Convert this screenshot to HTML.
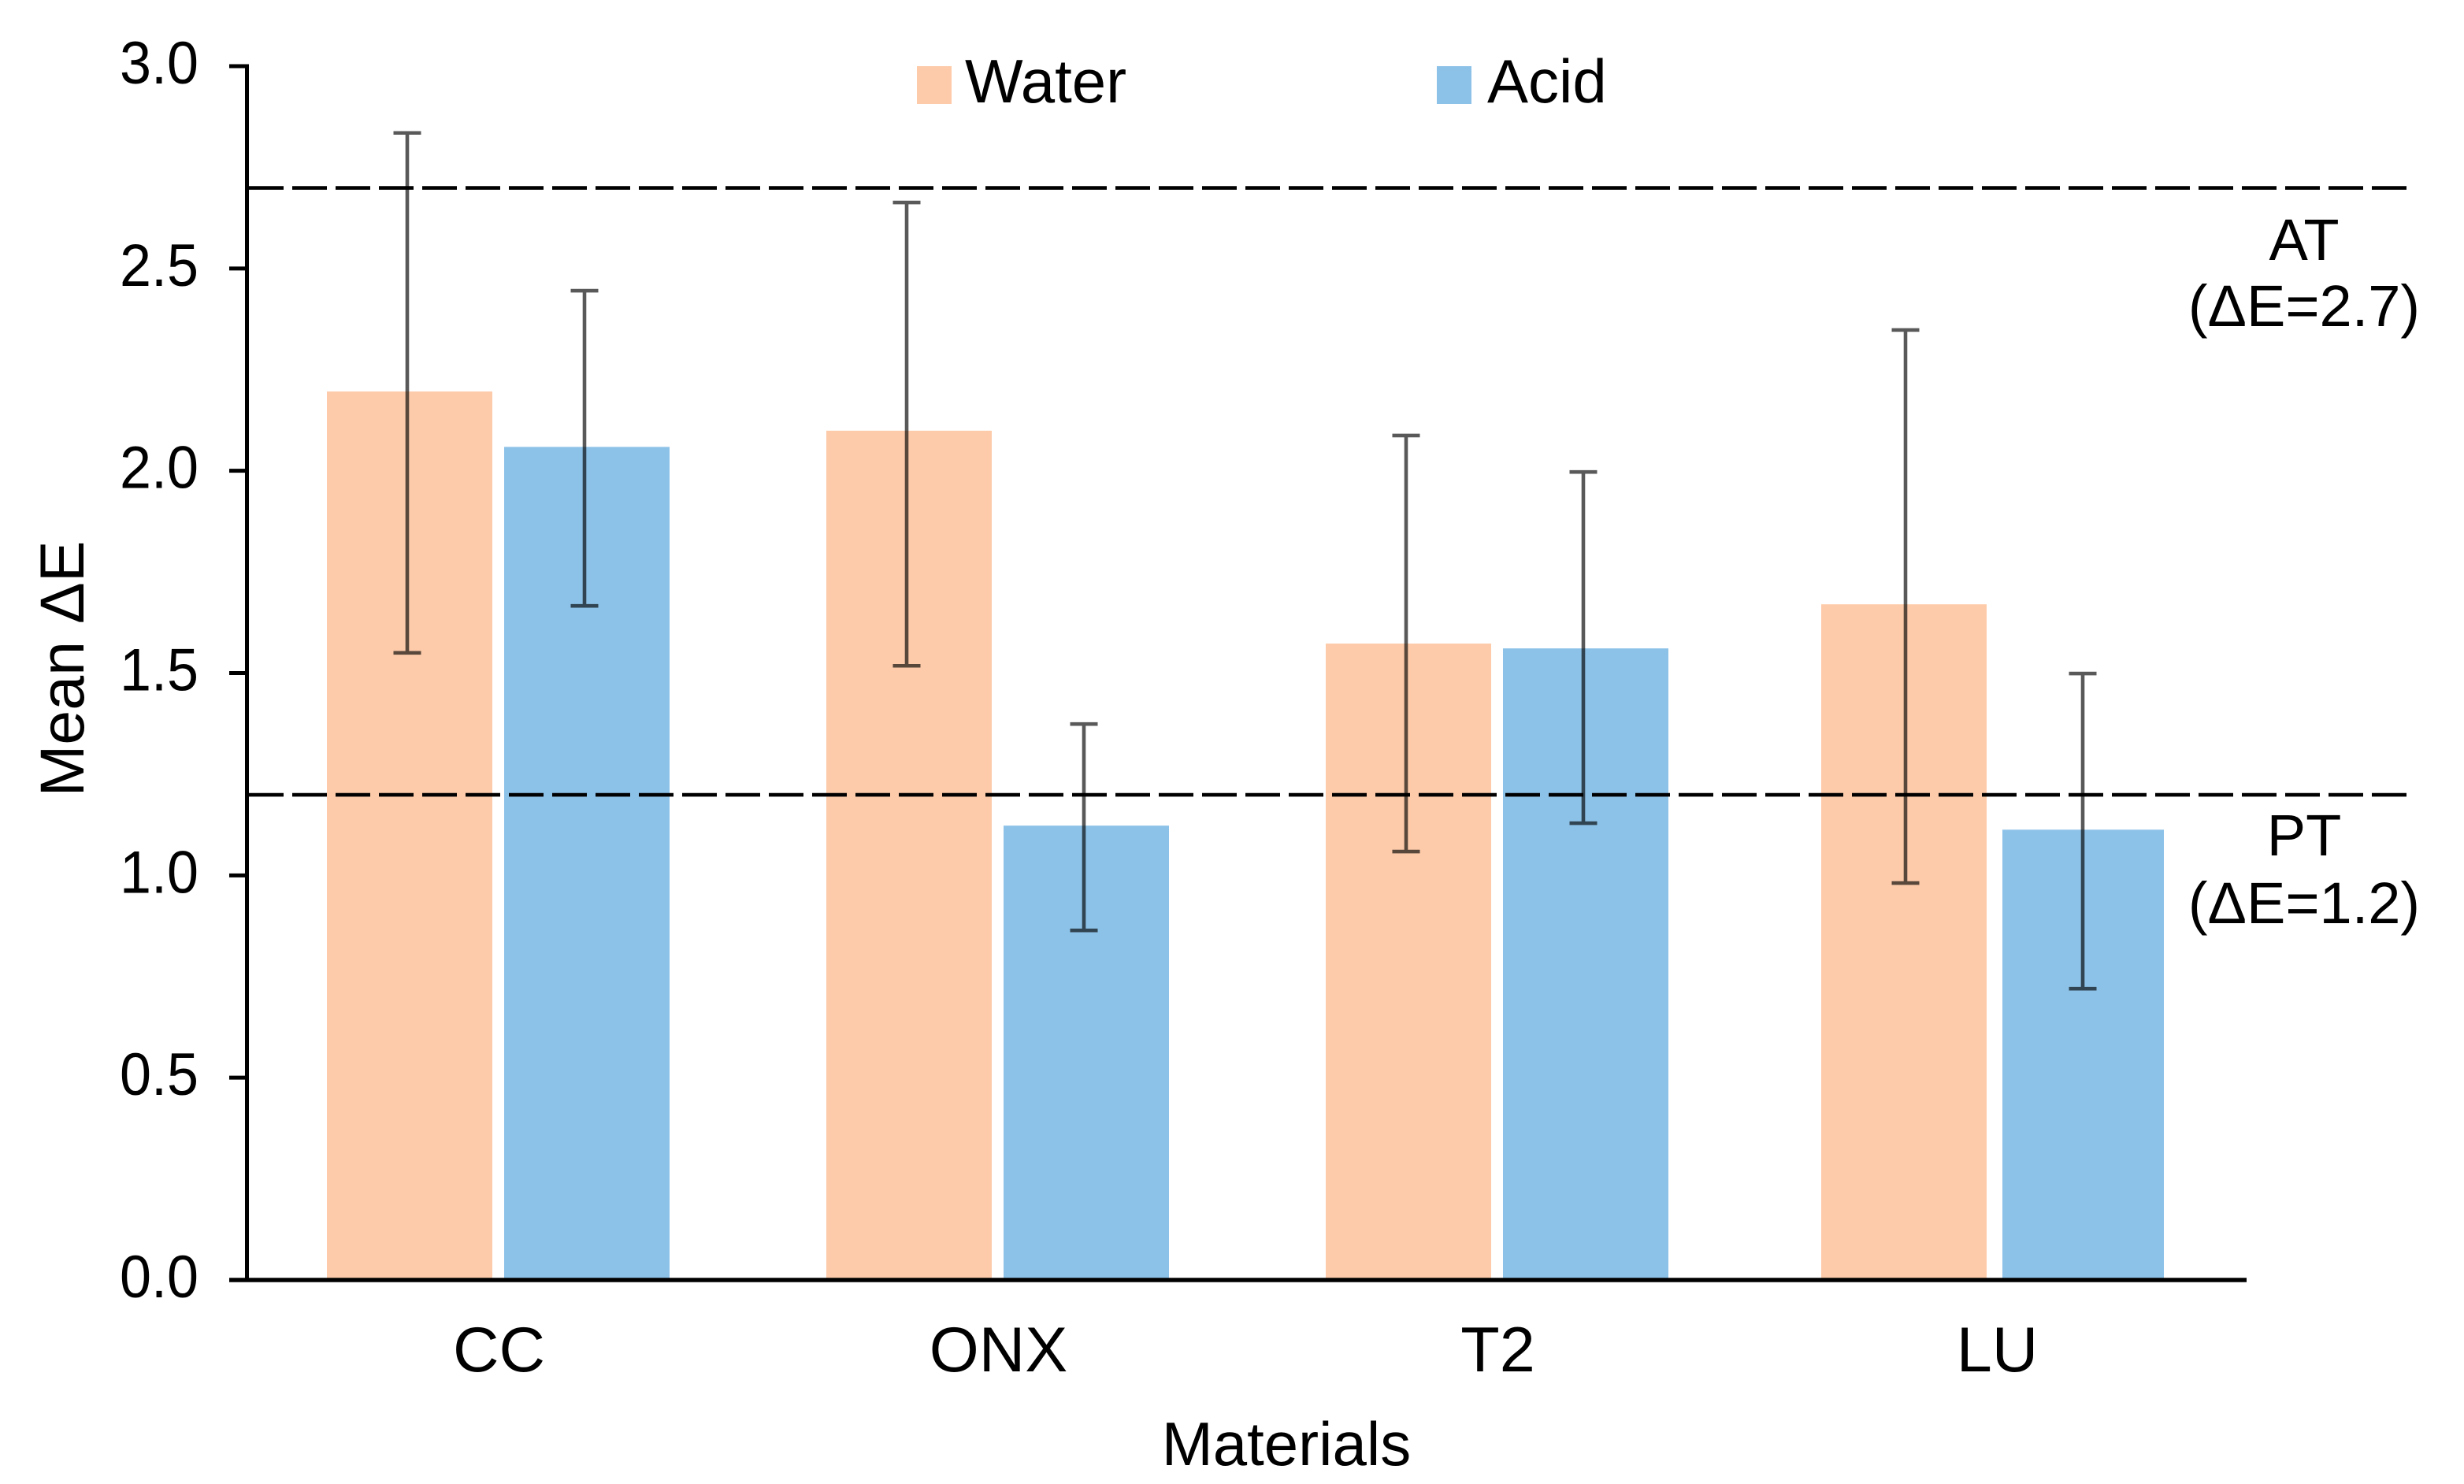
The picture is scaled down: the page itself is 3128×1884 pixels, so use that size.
<!DOCTYPE html>
<html lang="en">
<head>
<meta charset="utf-8">
<title>Mean ΔE by material</title>
<style>
html,body{margin:0;padding:0;background:#fff;}
#chart{display:block;width:3128px;height:1884px;font-family:"Liberation Sans",Arial,sans-serif;fill:#000;}
</style>
</head>
<body>
<svg id="chart" xmlns="http://www.w3.org/2000/svg" width="3128" height="1884" viewBox="0 0 3128 1884">
  <rect x="0" y="0" width="3128" height="1884" fill="#ffffff"/>
  <g id="bars"></g>
  <g id="errors"></g>
  <g id="refs"></g>
  <g id="axes"></g>
  <g>
    <rect x="1164" y="84" width="44" height="48" fill="#FDCBAA"/>
    <text x="1225" y="130" font-size="78">Water</text>
    <rect x="1824" y="84" width="44" height="48" fill="#8DC2E8"/>
    <text x="1888" y="130" font-size="78">Acid</text>
  </g>
  <text x="2925" y="330" font-size="74" text-anchor="middle">AT</text>
  <text x="2925" y="414" font-size="74" text-anchor="middle">(ΔE=2.7)</text>
  <text x="2925" y="1086" font-size="74" text-anchor="middle">PT</text>
  <text x="2925" y="1172" font-size="74" text-anchor="middle">(ΔE=1.2)</text>
  <text x="1633" y="1860" font-size="78" text-anchor="middle">Materials</text>
  <text transform="translate(106 849) rotate(-90)" font-size="79" text-anchor="middle">Mean ΔE</text>
</svg>
<script>
const categories = ["CC", "ONX", "T2", "LU"];
const waterMeans = [2.196, 2.099, 1.573, 1.670];
const acidMeans = [2.059, 1.123, 1.561, 1.113];
const waterHigh = [2.835, 2.663, 2.087, 2.348];
const waterLow = [1.550, 1.518, 1.059, 0.981];
const acidHigh = [2.445, 1.374, 1.997, 1.499];
const acidLow = [1.666, 0.864, 1.129, 0.720];
const yTicks = ["0.0", "0.5", "1.0", "1.5", "2.0", "2.5", "3.0"];
const thresholds = [2.7, 1.2];

const NS = "http://www.w3.org/2000/svg";
function make(tag, attrs, parent) {
  const el = document.createElementNS(NS, tag);
  for (const k in attrs) el.setAttribute(k, attrs[k]);
  parent.appendChild(el);
  return el;
}
const plotLeft = 313.5, plotRight = 2852, plotTickLeft = 291, yZero = 1625, yTop = 84, yMax = 3;
function yScale(v) { return yZero - (v / yMax) * (yZero - yTop); }
function xCenter(i) { return 632.5 + i * 634; }

const barWidth = 210, barOffset = 112.5;
const barsG = document.getElementById("bars");
const errorsG = document.getElementById("errors");
const refsG = document.getElementById("refs");
const axesG = document.getElementById("axes");

function drawSeries(name, means, highs, lows, color, offset, lastTrim, lastShift) {
  means.forEach(function (v, i) {
    const cx = xCenter(i) + offset;
    const isLast = i === means.length - 1;
    const w = isLast ? barWidth - lastTrim : barWidth;
    const bx = cx - barWidth / 2 + (isLast ? lastShift : 0);
    const bar = make("rect", { x: bx, y: yScale(v), width: w, height: yZero - yScale(v), fill: color }, barsG);
    
    

    const ex = cx - 3;
    const top = yScale(highs[i]);
    const bottom = yScale(lows[i]);
    const eb = make("path", {
      d: "M" + (ex - 17.5) + " " + top + "H" + (ex + 17.5) + "M" + ex + " " + top + "V" + bottom + "M" + (ex - 17.5) + " " + bottom + "H" + (ex + 17.5),
      stroke: "#000", "stroke-opacity": "0.65", "stroke-width": "4.6", fill: "none"
    }, errorsG);
    
    
  });
}
drawSeries("water", waterMeans, waterHigh, waterLow, "#FDCBAA", -barOffset, 0, -5);
drawSeries("acid", acidMeans, acidHigh, acidLow, "#8DC2E8", barOffset, 5, 0);

thresholds.forEach(function (t) {
  const line = make("line", { x1: 316, x2: 3056, y1: yScale(t) + 0.5, y2: yScale(t) + 0.5, stroke: "#000", "stroke-width": "4.6", "stroke-dasharray": "44 11" }, refsG);
  
  
});

const yAxis = make("line", { x1: plotLeft, x2: plotLeft, y1: yTop - 2.5, y2: yZero, stroke: "#000", "stroke-width": "5" }, axesG);



const xAxis = make("line", { x1: plotTickLeft, x2: plotRight, y1: yZero, y2: yZero, stroke: "#000", "stroke-width": "5.5" }, axesG);



yTicks.forEach(function (label) {
  const y = yScale(parseFloat(label));
  const tick = make("line", { x1: plotTickLeft, x2: plotLeft, y1: y, y2: y, stroke: "#000", "stroke-width": "5" }, axesG);
  
  
  const text = make("text", { x: 252, y: y + 22, "font-size": "76", "text-anchor": "end", textLength: "100", lengthAdjust: "spacingAndGlyphs" }, axesG);
  
  
  text.textContent = label;
});

categories.forEach(function (c, i) {
  const text = make("text", { x: xCenter(i) + 1, y: 1741, "font-size": "81", "text-anchor": "middle" }, axesG);
  
  
  text.textContent = c;
});
</script>
</body>
</html>
